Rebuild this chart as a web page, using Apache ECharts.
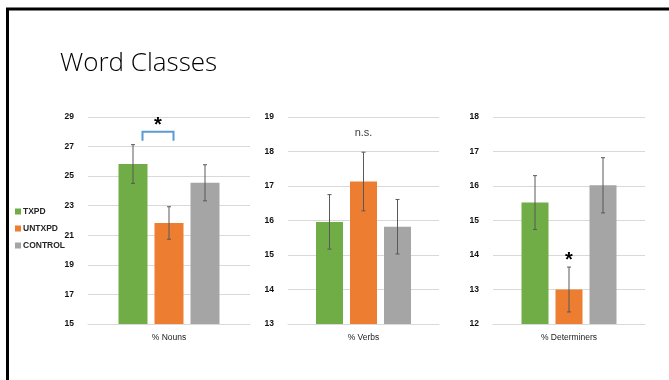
<!DOCTYPE html>
<html>
<head>
<meta charset="utf-8">
<script src="https://cdn.jsdelivr.net/npm/echarts@6/dist/echarts.min.js"></script>
<style>
html,body{margin:0;padding:0;background:#fff;}
#c{width:669px;height:380px;}
</style>
</head>
<body>
<div id="c"></div>
<script>
// ---- data ----
const title = 'Word Classes';
const groups = ['TXPD', 'UNTXPD', 'CONTROL'];
const colors = ['#70AD47', '#ED7D31', '#A5A5A5'];
const panelLabels = ['% Nouns', '% Verbs', '% Determiners'];
const nounMeans = [25.82, 21.83, 24.55];
const nounErr = [1.31, 1.10, 1.22];
const verbMeans = [15.96, 17.13, 15.82];
const verbErr = [0.79, 0.85, 0.79];
const detMeans = [15.52, 13.00, 16.02];
const detErr = [0.78, 0.65, 0.80];
const yMin = [15, 13, 12];
const yMax = [29, 19, 18];
const yStep = [2, 1, 1];
const annotations = ['*', 'n.s.', '*'];

const means = [nounMeans, verbMeans, detMeans];
const errs = [nounErr, verbErr, detErr];

const gridPos = [
  {left: 88, width: 162, top: 117, height: 207},
  {left: 288, width: 151, top: 117, height: 207},
  {left: 493, width: 152, top: 117, height: 207}
];
const barW = [29, 27, 27];
const barGapPx = [7, 7, 7];

const grids = [], xAxes = [], yAxes = [], series = [];
for (let p = 0; p < 3; p++) {
  grids.push(Object.assign({containLabel: false}, gridPos[p]));
  xAxes.push({
    type: 'category', gridIndex: p, data: [panelLabels[p]],
    axisLine: {show: true, lineStyle: {color: '#D9D9D9', width: 1}},
    axisTick: {show: false},
    axisLabel: {color: '#1a1a1a', fontFamily: 'Liberation Sans', fontSize: 8.5, margin: 9}
  });
  yAxes.push({
    type: 'value', gridIndex: p, min: yMin[p], max: yMax[p], interval: yStep[p],
    axisLine: {show: false}, axisTick: {show: false},
    splitLine: {lineStyle: {color: '#D9D9D9', width: 1}},
    axisLabel: {color: '#111', fontFamily: 'Liberation Sans', fontWeight: 'bold', fontSize: 8.5, margin: 14}
  });
  for (let g = 0; g < 3; g++) {
    series.push({
      type: 'bar', name: groups[g], xAxisIndex: p, yAxisIndex: p,
      data: [means[p][g]], barWidth: barW[p],
      barGap: (barGapPx[p] / barW[p] * 100) + '%',
      itemStyle: {color: colors[g]},
      emphasis: {disabled: true}, silent: true
    });
  }
  // error bars
  const errData = means[p].map((m, g) => [0, m - errs[p][g], m + errs[p][g], g]);
  const bw = barW[p], gp = barGapPx[p];
  series.push({
    type: 'custom', xAxisIndex: p, yAxisIndex: p, silent: true, z: 5,
    data: errData,
    renderItem: function (params, api) {
      const lo = api.coord([api.value(0), api.value(1)]);
      const hi = api.coord([api.value(0), api.value(2)]);
      const x = lo[0] + (api.value(3) - 1) * (bw + gp);
      const c = 2;
      const st = {stroke: '#595959', lineWidth: 1};
      return {type: 'group', children: [
        {type: 'line', shape: {x1: x, y1: lo[1], x2: x, y2: hi[1]}, style: st},
        {type: 'line', shape: {x1: x - c, y1: lo[1], x2: x + c, y2: lo[1]}, style: st},
        {type: 'line', shape: {x1: x - c, y1: hi[1], x2: x + c, y2: hi[1]}, style: st}
      ]};
    }
  });
}

// annotations
// panel 1: bracket + star
series.push({
  type: 'custom', xAxisIndex: 0, yAxisIndex: 0, silent: true, z: 6,
  data: [[0, 27.4, 28.0, 28.72]],
  renderItem: function (params, api) {
    const b = api.coord([0, api.value(1)]);
    const t = api.coord([0, api.value(2)]);
    const s = api.coord([0, api.value(3)]);
    const cx = b[0];
    const x1 = cx - 26.5, x2 = cx + 4.5;
    return {type: 'group', children: [
      {type: 'polyline', shape: {points: [[x1, b[1]], [x1, t[1]], [x2, t[1]], [x2, b[1]]]},
       style: {stroke: '#5B9BD5', lineWidth: 2, fill: null}},
      {type: 'text', x: (x1 + x2) / 2, y: s[1] + 4, style: {text: annotations[0], fontSize: 20, fontWeight: 'bold',
       fontFamily: 'Liberation Sans', fill: '#000', align: 'center', verticalAlign: 'middle'}}
    ]};
  }
});
// panel 2: n.s.
series.push({
  type: 'custom', xAxisIndex: 1, yAxisIndex: 1, silent: true, z: 6,
  data: [[0, 18.55]],
  renderItem: function (params, api) {
    const s = api.coord([0, api.value(1)]);
    return {type: 'text', x: s[0], y: s[1], style: {text: annotations[1], fontSize: 11,
      fontFamily: 'Liberation Sans', fill: '#404040', align: 'center', verticalAlign: 'middle'}};
  }
});
// panel 3: star above orange bar
series.push({
  type: 'custom', xAxisIndex: 2, yAxisIndex: 2, silent: true, z: 6,
  data: [[0, 13.95]],
  renderItem: function (params, api) {
    const s = api.coord([0, api.value(1)]);
    return {type: 'text', x: s[0], y: s[1] + 4, style: {text: annotations[2], fontSize: 20, fontWeight: 'bold',
      fontFamily: 'Liberation Sans', fill: '#000', align: 'center', verticalAlign: 'middle'}};
  }
});

const chart = echarts.init(document.getElementById('c'), null, {renderer: 'canvas'});
chart.setOption({
  animation: false,
  backgroundColor: '#fff',
  title: {text: title, left: 55, top: 46,
    textStyle: {fontFamily: 'Open Sans', fontWeight: 300, fontSize: 26, color: '#000'}},
  legend: {
    data: groups, orient: 'vertical', left: 10, top: 202,
    itemWidth: 6, itemHeight: 6, itemGap: 8, icon: 'rect',
    textStyle: {fontFamily: 'Liberation Sans', fontWeight: 'bold', fontSize: 8.5, color: '#262626', padding: [0, 0, 0, -3]},
    selectedMode: false
  },
  graphic: [{type: 'rect', shape: {x: 7.5, y: 9, width: 700, height: 400},
    style: {stroke: '#000', lineWidth: 3, fill: null}, silent: true, z: 100}],
  grid: grids, xAxis: xAxes, yAxis: yAxes, series: series
});
</script>
</body>
</html>
